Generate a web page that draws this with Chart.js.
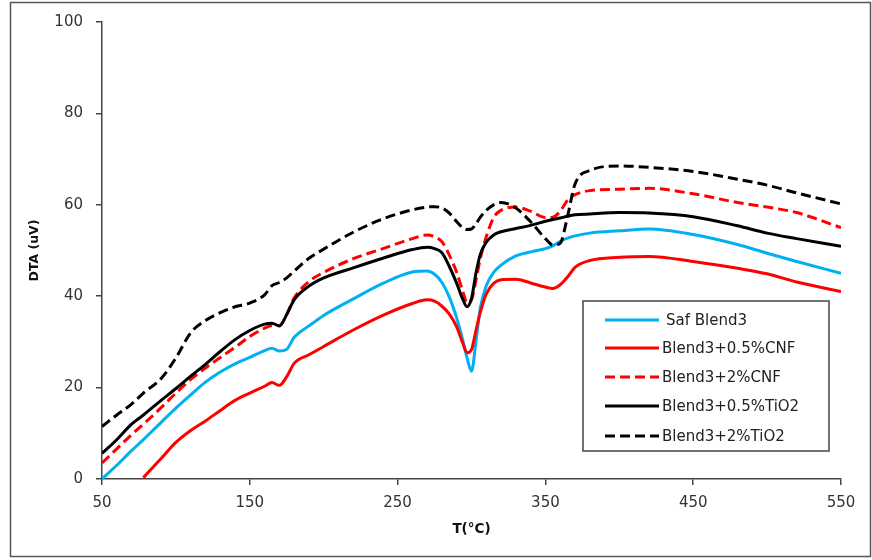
<!DOCTYPE html>
<html><head><meta charset="utf-8">
<script src="https://cdn.jsdelivr.net/npm/chart.js@4.4.1/dist/chart.umd.min.js"></script>
<style>html,body{margin:0;padding:0;background:#fff;}</style>
</head><body>
<canvas id="c" width="872" height="560"></canvas>
<script>
// ---- data ----
const temps = [50,60,70,78,90,100,110,120,130,140,150,160,165,170,175,180,190,200,220,240,260,270,275,280,285,290,294,297,300,303,306,310,315,320,330,340,350,355,360,365,370,380,400,420,450,480,500,520,550];
const safBlend3 = [0,3,6.2,8.6,12.4,15.5,18.4,21.2,23.4,25.2,26.6,28.1,28.6,28.0,28.4,31,33.5,35.8,39.4,42.8,45.3,45.5,44.8,43,39.8,35.2,30.5,26.5,23.6,30,37.5,42.3,45.2,46.8,48.8,49.7,50.4,51,52,52.7,53.2,53.8,54.3,54.7,53.5,51.3,49.4,47.6,45];
const cnf05 = [null,null,null,0.3,4.5,8,10.6,12.7,15,17.2,18.8,20.3,21.1,20.5,22.4,25.3,27.2,29,32.6,35.8,38.4,39.2,38.9,37.8,36.1,33.3,29.8,27.6,28.3,32.5,36.5,40.5,42.8,43.6,43.7,42.9,42,41.7,42.5,44.2,46.3,47.8,48.5,48.7,47.6,46.1,44.9,43.1,41];
const cnf2 = [3.5,6.6,9.7,12,15.6,18.8,21.8,24.3,26.6,28.8,31.2,33,33.6,33.6,36,39.6,43.2,45.2,48.2,50.4,52.6,53.4,53,51.9,49,45.2,41.2,38.6,39.2,43.5,48.3,53,57.2,58.8,59.5,58.6,57.2,57.3,58.6,61,62.2,63.1,63.4,63.6,62.4,60.5,59.5,58.3,55];
const tio205 = [5.6,8.6,12,14,17.2,19.8,22.5,25.1,27.9,30.5,32.5,33.9,34.1,33.5,36,39.2,42.2,44,46.2,48.3,50.2,50.7,50.4,49.5,46.5,42.8,39.4,37.7,39.5,45,49.2,51.8,53.4,54.1,54.8,55.5,56.4,56.8,57.1,57.5,57.8,58,58.3,58.2,57.4,55.4,53.8,52.6,50.9];
const tio22 = [11.5,14,16.4,18.8,22,26.5,32,34.7,36.4,37.7,38.5,40.3,42.3,43,44,45.5,48.3,50.3,54,56.9,58.9,59.5,59.6,59.3,58.2,56.3,55,54.6,54.7,55.8,57.3,58.8,60,60.5,59.3,56.3,52.6,51.2,51.6,57.5,64.5,67.5,68.5,68.2,67.3,65.6,64.3,62.6,60.2];
const seriesNames = ['Saf Blend3','Blend3+0.5%CNF','Blend3+2%CNF','Blend3+0.5%TiO2','Blend3+2%TiO2'];
const xTicks = [50,150,250,350,450,550];
const yTicks = [0,20,40,60,80,100];
const xTitle = 'T(°C)';
const yTitle = 'DTA (uV)';

// ---- styles ----
const seriesValues = [safBlend3, cnf05, cnf2, tio205, tio22];
const colors = ['#00B0F0','#FF0000','#FF0000','#000000','#000000'];
const dashes = [[],[],[10,5],[],[10,5]];
const FONT = 'DejaVu Sans';

const datasets = seriesValues.map((vals, i) => ({
  label: seriesNames[i],
  data: temps.map((t, j) => ({x: t, y: vals[j]})),
  borderColor: colors[i],
  backgroundColor: colors[i],
  borderDash: dashes[i],
  borderWidth: 3,
  pointRadius: 0,
  fill: false,
  cubicInterpolationMode: 'monotone',
  borderJoinStyle: 'round',
  order: seriesValues.length - i
}));

const framePlugin = {
  id: 'frameLegend',
  beforeDraw(chart) {
    const ctx = chart.ctx;
    ctx.save();
    ctx.fillStyle = '#fff';
    ctx.fillRect(0, 0, chart.width, chart.height);
    ctx.strokeStyle = '#555';
    ctx.lineWidth = 1.5;
    ctx.strokeRect(10.5, 2.5, 860, 554);
    ctx.restore();
  },
  afterDatasetsDraw(chart) {
    const ctx = chart.ctx;
    ctx.save();
    const bx = 583, by = 301, bw = 246, bh = 150;
    ctx.fillStyle = '#fff';
    ctx.fillRect(bx, by, bw, bh);
    ctx.strokeStyle = '#444';
    ctx.lineWidth = 1.5;
    ctx.strokeRect(bx, by, bw, bh);
    const rows = [320, 348, 377, 406, 436];
    chart.data.datasets.forEach((ds, i) => {
      const y = rows[i];
      ctx.strokeStyle = ds.borderColor;
      ctx.lineWidth = 3;
      ctx.setLineDash(ds.borderDash);
      ctx.beginPath();
      ctx.moveTo(605, y);
      ctx.lineTo(659, y);
      ctx.stroke();
      ctx.setLineDash([]);
      ctx.fillStyle = '#222';
      ctx.font = '15px "' + FONT + '"';
      ctx.textBaseline = 'middle';
      ctx.textAlign = 'left';
      ctx.fillText(ds.label, i === 0 ? 666 : 662, y + 1);
    });
    ctx.restore();
  }
};

new Chart(document.getElementById('c'), {
  type: 'line',
  data: {datasets},
  plugins: [framePlugin],
  options: {
    responsive: false,
    animation: false,
    devicePixelRatio: 1,
    layout: {padding: {left: 10, top: 19, right: 31, bottom: 0}},
    plugins: {legend: {display: false}, tooltip: {enabled: false}},
    scales: {
      x: {
        type: 'linear', min: 50, max: 550,
        afterBuildTicks: s => { s.ticks = xTicks.map(v => ({value: v})); },
        afterFit: s => { s.height = 81; },
        grid: {display: true, drawOnChartArea: false, drawTicks: true, tickLength: 6, color: '#444', lineWidth: 1.5},
        border: {display: true, color: '#444', width: 1.5},
        ticks: {color: '#333', font: {family: FONT, size: 15}, padding: 9, maxRotation: 0},
        title: {display: true, text: xTitle, color: '#111', font: {family: FONT, size: 13.5, weight: 'bold'}, padding: {top: 0, bottom: 22}}
      },
      y: {
        type: 'linear', min: 0, max: 100,
        afterBuildTicks: s => { s.ticks = yTicks.map(v => ({value: v})); },
        afterFit: s => { s.width = 92; },
        grid: {display: true, drawOnChartArea: false, drawTicks: true, tickLength: 6, color: '#444', lineWidth: 1.5},
        border: {display: true, color: '#444', width: 1.5},
        ticks: {color: '#333', font: {family: FONT, size: 15}, padding: 13},
        title: {display: true, text: yTitle, color: '#111', font: {family: FONT, size: 12.5, weight: 'bold'}, padding: {top: 17.5, bottom: 0}}
      }
    }
  }
});
</script>
</body></html>
